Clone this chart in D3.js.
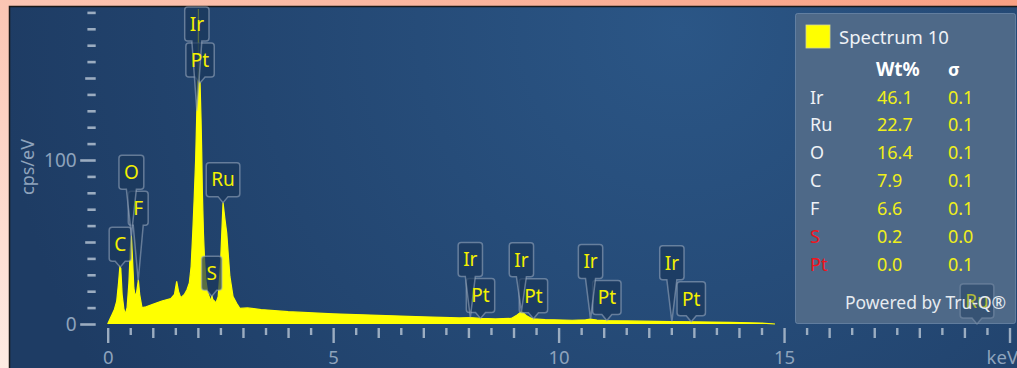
<!DOCTYPE html>
<html>
<head>
<meta charset="utf-8">
<script src="https://cdn.jsdelivr.net/npm/d3@7"></script>
<style>
  html, body { margin: 0; padding: 0; background: #fbb59a; }
  svg { display: block; font-family: "Noto Sans", "Open Sans", sans-serif; }
</style>
</head>
<body>
<svg id="chart" width="1017" height="368"></svg>
<script>
// EDS spectrum: energy (keV) and intensity (cps/eV)
const energies = [
  0.00, 0.05, 0.10, 0.15, 0.20, 0.24, 0.27, 0.29, 0.32, 0.36, 0.39, 0.43, 0.47, 0.50, 0.525, 0.55,
  0.58, 0.61, 0.64, 0.68, 0.71, 0.76, 0.85, 1.00, 1.20, 1.40, 1.48, 1.53, 1.57, 1.62, 1.70, 1.76,
  1.81, 1.85, 1.885, 1.92, 1.95, 1.977, 1.995, 2.008, 2.012, 2.016, 2.048, 2.07, 2.085, 2.10, 2.124,
  2.15, 2.18, 2.22, 2.26, 2.29, 2.31, 2.33, 2.37, 2.40, 2.45, 2.50, 2.53, 2.558, 2.60, 2.64, 2.68,
  2.71, 2.78, 2.86, 2.93, 3.10, 3.40, 4.0, 5.0, 6.0, 7.0, 7.8, 8.04, 8.27, 8.6, 8.95, 9.08, 9.18,
  9.28, 9.40, 9.44, 9.7, 10.3, 10.6, 10.7, 10.85, 11.07, 11.5, 12.5, 13.0, 13.8, 14.5, 14.8
];
const counts = [
  0, 3, 6, 9, 14, 25, 35, 34, 18, 9, 6, 10, 25, 45, 54, 40,
  22, 17, 19, 27, 18, 10, 10.5, 12, 14, 15.5, 18, 26, 20, 16, 18, 21,
  25, 35, 55, 78, 100, 130, 148, 150, 192, 150, 147, 125, 105, 80, 55,
  38, 26, 19, 16, 13.6, 17.5, 15, 14, 12.8, 16.7, 35, 55.5, 74, 64, 55.5, 40,
  29, 16.7, 12.6, 9.5, 9.8, 8.8, 7.5, 6.2, 5.3, 4.4, 3.7, 3.9, 3.4, 3.1, 3.4, 5.5, 7.6,
  5.2, 3.4, 3.2, 2.7, 2.3, 2.6, 3.0, 2.4, 2.1, 1.9, 1.5, 1.3, 1.0, 0.6, 0
];

// Peak labels (placed in this order, stacking upward when they collide)
const peakElements = ["C", "F", "O", "S", "Ru", "Pt", "Ir", "Pt", "Ir", "Pt", "Ir", "Pt", "Ir", "Pt", "Ir", "Ru"];
const peakEnergies = [0.277, 0.677, 0.525, 2.307, 2.558, 2.048, 1.977, 8.268, 8.042, 9.442, 9.175, 11.07, 10.708, 12.942, 12.512, 19.279];

// Axis ticks
const xTickLabels = ["0", "5", "10", "15", "keV"];
const yTickLabels = ["0", "100"];
const yAxisTitle = "cps/eV";

// Quantification table
const spectrumName = "Spectrum 10";
const quantElements = ["Ir", "Ru", "O", "C", "F", "S", "Pt"];
const quantWt = ["46.1", "22.7", "16.4", "7.9", "6.6", "0.2", "0.0"];
const quantSigma = ["0.1", "0.1", "0.1", "0.1", "0.1", "0.0", "0.1"];
const flaggedElements = ["S", "Pt"];
const footer = "Powered by Tru-Q®";

const svg = d3.select("#chart");
const W = 1017, H = 368;

const defs = svg.append("defs");
const frameGrad = defs.append("linearGradient").attr("id", "frameGrad")
  .attr("x1", "1").attr("y1", "0").attr("x2", "0").attr("y2", "1");
frameGrad.append("stop").attr("offset", "0").attr("stop-color", "#f8a083");
frameGrad.append("stop").attr("offset", "1").attr("stop-color", "#feebe3");

const panelGrad = defs.append("radialGradient").attr("id", "panelGrad")
  .attr("gradientUnits", "userSpaceOnUse")
  .attr("cx", 680).attr("cy", 30).attr("r", 680);
panelGrad.append("stop").attr("offset", "0").attr("stop-color", "#2b5686");
panelGrad.append("stop").attr("offset", "1").attr("stop-color", "#1e3c64");

// outer frame and chart panel
svg.append("rect").attr("width", W).attr("height", H).attr("fill", "url(#frameGrad)");
svg.append("rect").attr("x", 9.5).attr("y", 6.5).attr("width", W).attr("height", H)
  .attr("fill", "url(#panelGrad)").attr("stroke", "#1a1a1a").attr("stroke-width", 1.5);

const x = d3.scaleLinear().domain([0, 20]).range([107.7, 1009.5]);
const y = d3.scaleLinear().domain([0, 190]).range([324, 12.4]);

const tickColor = "#a9b8ca";
const labelColor = "#8ea3bc";

// x axis
const xAxis = d3.axisBottom(x)
  .tickValues(d3.range(0, 20.001, 0.5))
  .tickSize(7)
  .tickFormat(d => (Math.abs(d % 5) < 1e-9 ? xTickLabels[Math.round(d / 5)] : ""));
const gx = svg.append("g").attr("transform", "translate(0,328)").call(xAxis);
gx.select(".domain").remove();
gx.selectAll(".tick line")
  .attr("stroke", tickColor).attr("stroke-width", 2.4).attr("opacity", 0.9)
  .attr("y2", d => (Math.abs(d % 5) < 1e-9 ? 15 : (Math.abs(d % 1) < 1e-9 ? 10 : 7)));
gx.selectAll(".tick text")
  .attr("y", 29.5).attr("dy", "0.35em")
  .attr("fill", labelColor).attr("font-size", 18.5)
  .attr("font-family", "'Noto Sans', sans-serif");
gx.selectAll(".tick").filter(d => d === 20).select("text")
  .attr("text-anchor", "end").attr("x", 8);

// y axis
const yAxis = d3.axisLeft(y)
  .tickValues(d3.range(0, 191, 10))
  .tickSize(8)
  .tickFormat(d => (d % 100 === 0 ? yTickLabels[d / 100] : ""));
const gy = svg.append("g").attr("transform", "translate(95.7,0)").call(yAxis);
gy.select(".domain").remove();
gy.selectAll(".tick line")
  .attr("stroke", tickColor).attr("stroke-width", 2.6).attr("opacity", 0.9)
  .attr("x2", d => (d % 100 === 0 ? -15.5 : (d % 50 === 0 ? -10.5 : -8.3)));
gy.selectAll(".tick text")
  .attr("x", -19).attr("dy", "0.34em")
  .attr("fill", labelColor).attr("font-size", 19)
  .attr("font-family", "'Noto Sans', sans-serif");

svg.append("text")
  .attr("transform", "translate(28,167) rotate(-90)")
  .attr("text-anchor", "middle").attr("dy", "0.35em")
  .attr("fill", labelColor).attr("font-size", 18)
  .text(yAxisTitle);

// spectrum
const spectrum = energies.map((e, i) => ({ e, c: counts[i] }));
const area = d3.area().x(d => x(d.e)).y0(y(0)).y1(d => y(d.c));
const line = d3.line().x(d => x(d.e)).y(d => y(d.c));
svg.append("path").datum(spectrum).attr("d", area).attr("fill", "#ffff00");
svg.append("path").datum(spectrum).attr("d", line)
  .attr("fill", "none").attr("stroke", "#ffff00").attr("stroke-width", 1.2);

// interpolated spectrum value at an energy
function countAt(e) {
  const i = d3.bisectLeft(energies, e);
  if (i <= 0) return counts[0];
  if (i >= energies.length) return 0;
  const e0 = energies[i - 1], e1 = energies[i];
  const t = (e - e0) / (e1 - e0);
  return counts[i - 1] + t * (counts[i] - counts[i - 1]);
}

// callout path: rounded box with a pointer down to (tx, ty)
function bubble(x0, y0, x1, y1, tx, ty) {
  const r = 3, hw = 5, cx = (x0 + x1) / 2;
  return `M${x0 + r},${y0}H${x1 - r}Q${x1},${y0} ${x1},${y0 + r}V${y1 - r}Q${x1},${y1} ${x1 - r},${y1}` +
    `H${cx + hw}L${tx},${ty}L${cx - hw},${y1}H${x0 + r}Q${x0},${y1} ${x0},${y1 - r}V${y0 + r}Q${x0},${y0} ${x0 + r},${y0}Z`;
}

const boxH = 34, tail = 6, gap = 2, padX = 5, labelFont = 19;
const measure = svg.append("text").attr("font-size", labelFont).attr("visibility", "hidden");
const placed = [];
peakElements.forEach((el, i) => {
  const tx = x(peakEnergies[i]);
  const ty = y(countAt(peakEnergies[i]));
  measure.text(el);
  const w = measure.node().getComputedTextLength() + 2 * padX;
  const b = { el, tx, ty, x0: tx - w / 2, x1: tx + w / 2, y1: ty - tail };
  b.y0 = b.y1 - boxH;
  let hit = true;
  while (hit) {
    hit = false;
    for (const p of placed) {
      if (b.x0 < p.x1 + gap && p.x0 < b.x1 + gap && b.y0 < p.y1 + gap && p.y0 < b.y1 + gap) {
        b.y1 = p.y0 - gap;
        b.y0 = b.y1 - boxH;
        hit = true;
      }
    }
  }
  placed.push(b);
});
measure.remove();

const legendX = 795, legendY = 13.5, legendW = 220, legendH = 310;
const inLegend = b => b.x0 > legendX && b.y0 > legendY;

function drawLabels(list, opacity) {
  const g = svg.append("g").attr("opacity", opacity);
  g.selectAll("path").data(list).join("path")
    .attr("d", b => bubble(b.x0, b.y0, b.x1, b.y1, b.tx, b.ty))
    .attr("fill", "rgba(26,55,92,0.72)")
    .attr("stroke", "rgba(160,175,195,0.55)").attr("stroke-width", 1.5);
  g.selectAll("text").data(list).join("text")
    .attr("x", b => (b.x0 + b.x1) / 2).attr("y", b => (b.y0 + b.y1) / 2)
    .attr("dy", "0.36em").attr("text-anchor", "middle")
    .attr("font-size", labelFont).attr("fill", "#f4f000")
    .text(b => b.el);
}
drawLabels(placed.filter(b => !inLegend(b)), 1);

// quantification panel
const lg = svg.append("g");
lg.append("rect").attr("x", legendX + 0.5).attr("y", legendY).attr("width", legendW).attr("height", legendH)
  .attr("rx", 2).attr("fill", "#4e6988").attr("stroke", "rgba(125,150,180,0.6)").attr("stroke-width", 1);

drawLabels(placed.filter(inLegend), 0.6);

const lt = svg.append("g").attr("font-size", 18);
lt.append("rect").attr("x", 806).attr("y", 25).attr("width", 24).attr("height", 23)
  .attr("fill", "#ffff00").attr("stroke", "#d8d890").attr("stroke-width", 0.8);
lt.append("text").attr("x", 839).attr("y", 44).attr("fill", "#eef2f6").attr("font-size", 18.5).text(spectrumName);
lt.append("text").attr("x", 876).attr("y", 76).attr("fill", "#ffffff").attr("font-weight", "bold").attr("font-size", 19).text("Wt%");
lt.append("text").attr("x", 948).attr("y", 76).attr("fill", "#ffffff").attr("font-weight", "bold").text("σ");
quantElements.forEach((el, i) => {
  const yy = 103.5 + i * 27.9;
  lt.append("text").attr("x", 810).attr("y", yy)
    .attr("fill", flaggedElements.includes(el) ? "#f0141c" : "#eef2f6").text(el);
  lt.append("text").attr("x", 877).attr("y", yy).attr("fill", "#f0ef1a").text(quantWt[i]);
  lt.append("text").attr("x", 948).attr("y", yy).attr("fill", "#f0ef1a").text(quantSigma[i]);
});
lt.append("text").attr("x", 845).attr("y", 309).attr("fill", "#e6ebf0").attr("font-size", 17.5).text(footer);
</script>
</body>
</html>
